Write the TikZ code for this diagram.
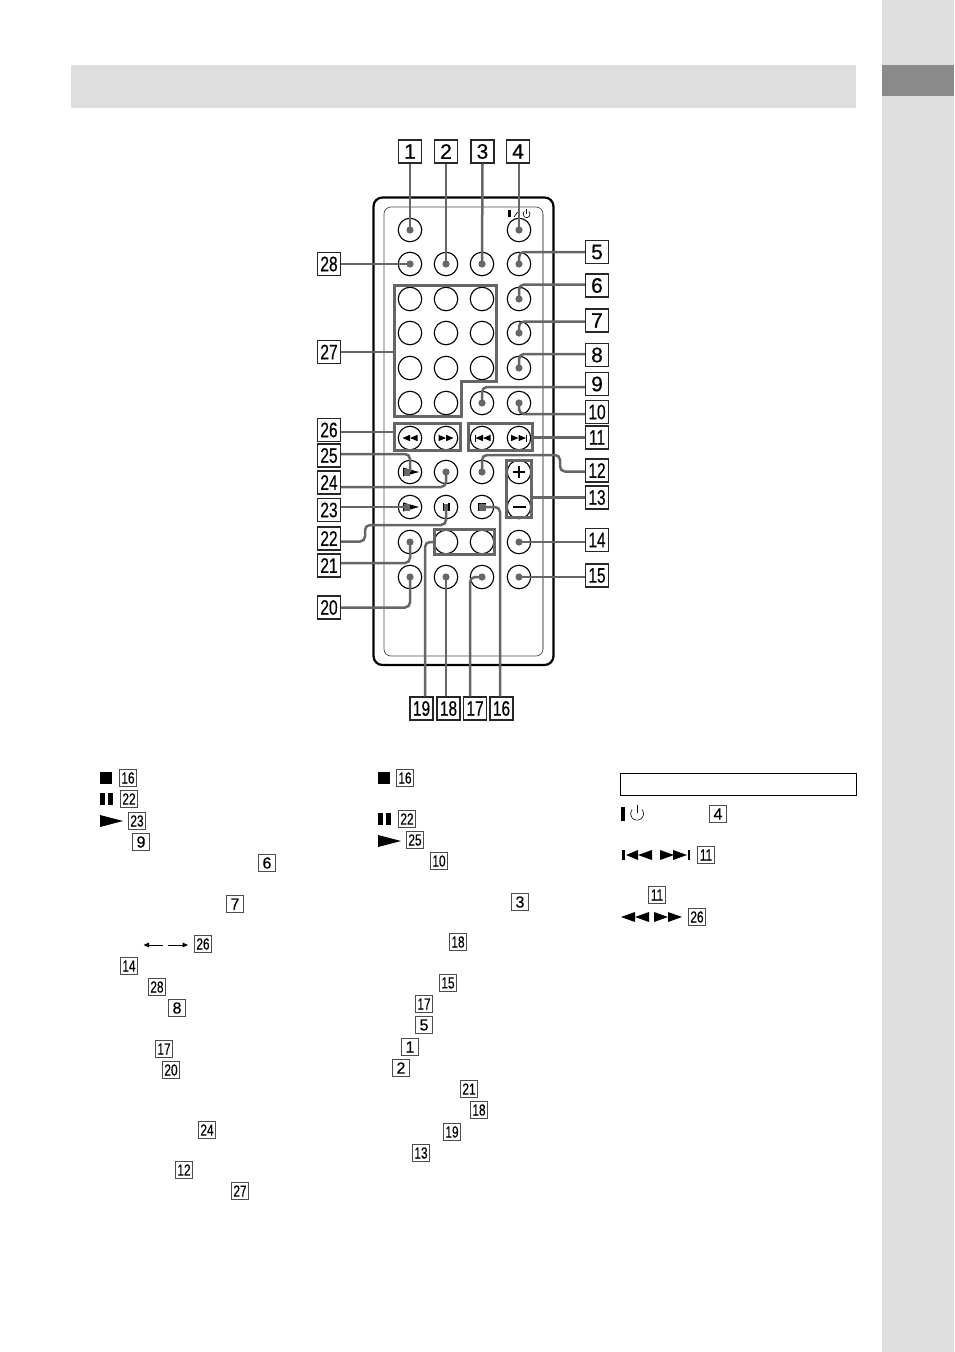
\documentclass[tikz,border=0pt]{standalone}
\usepackage{fontspec}
\setmainfont{Liberation Sans}
\newfontfamily\labfont[FakeBold=0.5]{Liberation Sans}
\usetikzlibrary{calc}
\definecolor{bandgray}{HTML}{DEDEDE}
\definecolor{tabgray}{HTML}{8A8A8A}
\definecolor{conngray}{HTML}{666666}
\newcommand{\nn}[1]{\scalebox{.74}[1]{#1}}
% triangle pointing right/left: base x, y, signed length, half height
\newcommand{\tri}[4]{\fill (#1,#2-#4) -- (#1+#3,#2) -- (#1,#2+#4) -- cycle;}
\newcommand{\blab}[4]{\node[biglab] (#1) at (#2,#3) {#4};}
\newcommand{\sml}[4]{\node[smllab] (#1) at (#2,#3) {#4};}
\newcommand{\btn}[3]{\node[btnnode] (#1) at (#2,#3) {};}
\newcommand{\dotat}[1]{\fill[conngray] (#1.center) circle (3.6);}
\tikzset{
  x=1pt,y=-1pt,
  biglab/.style={draw=black!85,line width=1.1pt,fill=white,minimum width=23pt,minimum height=23pt,inner sep=0pt,font=\labfont\fontsize{21}{21}\selectfont},
  smllab/.style={draw=black!70,line width=.9pt,fill=white,minimum width=17.5pt,minimum height=17.5pt,inner sep=0pt,font=\labfont\fontsize{16}{16}\selectfont},
  btnnode/.style={circle,draw=black,line width=1.1pt,fill=white,minimum size=23.5pt,inner sep=0pt},
  conn/.style={draw=conngray,line width=2.5pt,rounded corners=5pt},
  grp/.style={draw=conngray,line width=3pt,miter limit=4},
}
\begin{document}
\begin{tikzpicture}
\useasboundingbox (0,0) rectangle (954,1352);
% page bands
\fill[bandgray] (71,65) rectangle (856,108);
\fill[bandgray] (882,0) rectangle (954,1352);
\fill[tabgray] (882,65) rectangle (954,96);
% remote body
\draw[line width=2.2pt,rounded corners=9pt] (373.5,197.5) rectangle (553.5,665);
\draw[line width=.7pt,draw=black!70,rounded corners=7pt] (384,207) rectangle (543,656);
\draw[line width=1.8pt,draw=black!35] (543,214) -- (543,649);
% power mark
\fill (508,210) rectangle (510.5,217);
\draw[line width=.7pt] (514,217) -- (517.5,212);
\draw[line width=.6pt] (528.8,211.5) arc[start angle=-50,end angle=230,radius=3.5];
\draw[line width=.6pt] (526.5,209) -- (526.5,213.5);
% buttons
\btn{b1}{410}{230}\btn{b4}{519}{230}
\btn{b28}{410}{264}\btn{b2}{446}{264}\btn{b3}{482}{264}\btn{b5}{519}{264}
\btn{n1}{410}{299}\btn{n2}{446}{299}\btn{n3}{482}{299}\btn{b6}{519}{299}
\btn{n4}{410}{333}\btn{n5}{446}{333}\btn{n6}{482}{333}\btn{b7}{519}{333}
\btn{n7}{410}{368}\btn{n8}{446}{368}\btn{n9}{482}{368}\btn{b8}{519}{368}
\btn{n10}{410}{403}\btn{n11}{446}{403}\btn{b9}{482}{403}\btn{b10}{519}{403}
\btn{brew}{410}{438}\btn{bff}{446}{438}\btn{bprev}{482}{438}\btn{bnext}{519}{438}
\btn{b25}{410}{472}\btn{b24}{446}{472}\btn{b12}{482}{472}\btn{bplus}{519}{472}
\btn{b23}{410}{507}\btn{b22}{446}{507}\btn{b16}{482}{507}\btn{bminus}{519}{507}
\btn{b21}{410}{542}\btn{n12}{446}{542}\btn{n13}{482}{542}\btn{b14}{519}{542}
\btn{b20}{410}{577}\btn{b18}{446}{577}\btn{b17}{482}{577}\btn{b15}{519}{577}
% button symbols
\tri{410}{438}{-7.5}{3.2}\tri{417.5}{438}{-7.5}{3.2}
\tri{438.5}{438}{7.5}{3.2}\tri{446}{438}{7.5}{3.2}
\fill (474.5,434.5) rectangle (475.7,441.5);
\tri{483}{438}{-7.5}{3.2}\tri{490.5}{438}{-7.5}{3.2}
\tri{511}{438}{7.5}{3.2}\tri{518.5}{438}{7.5}{3.2}
\fill (526,434.5) rectangle (527.2,441.5);
\fill (513,470.8) rectangle (525,473.2);
\fill (517.8,466) rectangle (520.2,478);
\fill (512.5,505.8) rectangle (525.5,508.2);
\tri{403}{472}{16}{4.5}
\tri{403}{507}{16}{4.5}
\fill (478,503) rectangle (486,511);
% groups
\draw[grp] (394.8,285.5) -- (496.6,285.5) -- (496.6,381) -- (461,381) -- (461,416.8) -- (394.8,416.8) -- cycle;
\node[grp,minimum width=66pt,minimum height=27pt,inner sep=0pt] (g26) at (427.5,436.7) {};
\node[grp,minimum width=64pt,minimum height=27pt,inner sep=0pt] (g11) at (500.5,436.7) {};
\node[grp,minimum width=25pt,minimum height=57pt,inner sep=0pt] (g13) at (519,489) {};
\node[grp,minimum width=60pt,minimum height=25pt,inner sep=0pt] (g19) at (464.5,542) {};
\coordinate (g27) at (394.8,352);
\coordinate (g26l) at (394.8,432);
% large labels
\blab{l1}{410}{151.5}{1}\blab{l2}{446}{151.5}{2}\blab{l3}{482.5}{151.5}{3}\blab{l4}{518}{151.5}{4}
\blab{l5}{597}{252}{5}\blab{l6}{597}{285.5}{6}\blab{l7}{597}{320.5}{7}\blab{l8}{597}{355}{8}
\blab{l9}{597}{384}{9}\blab{l10}{597}{412}{\nn{10}}\blab{l11}{597}{437.5}{\nn{11}}
\blab{l12}{597}{470.5}{\nn{12}}\blab{l13}{597}{497.5}{\nn{13}}\blab{l14}{597}{540}{\nn{14}}\blab{l15}{597}{575.5}{\nn{15}}
\blab{l28}{329}{264}{\nn{28}}\blab{l27}{329}{352}{\nn{27}}\blab{l26}{329}{430}{\nn{26}}
\blab{l25}{329}{455.5}{\nn{25}}\blab{l24}{329}{482.5}{\nn{24}}\blab{l23}{329}{510}{\nn{23}}
\blab{l22}{329}{538.5}{\nn{22}}\blab{l21}{329}{565.5}{\nn{21}}\blab{l20}{329}{607.5}{\nn{20}}
\blab{l19}{421.5}{708.5}{\nn{19}}\blab{l18}{448.5}{708.5}{\nn{18}}\blab{l17}{475}{708.5}{\nn{17}}\blab{l16}{501.5}{708.5}{\nn{16}}
% connectors
\path[conn] (l1.south) -- (b1.center);
\path[conn] (l2.south) -- (b2.center);
\path[conn] (l3.south) -- (b3.center);
\path[conn] (b4.center |- l4.south) -- (b4.center);
\path[conn] (l5.west) -| (b5.center);
\path[conn] (l6.west) ++(0,-1) -| (b6.center);
\path[conn] (l7.west) ++(0,1) -| (b7.center);
\path[conn] (l8.west) ++(0,-1) -| (b8.center);
\path[conn] (l9.west) ++(0,3) -| (b9.center);
\path[conn] (l10.west) ++(0,2) -| (b10.center);
\path[conn] (l11.west) -- (g11.east |- l11.west);
\path[conn] (l12.west) ++(0,1) -- (560,471.5) -- (560,455) -- (482,455) -- (b12.center);
\path[conn] (l13.west) -- (g13.east |- l13.west);
\path[conn] (l14.west) ++(0,2) -- (b14.center);
\path[conn] (l15.west) ++(0,1.5) -- (b15.center);
\path[conn] (l16.north) ++(-1.5,0) |- (b16.center);
\path[conn] (l17.north) ++(-5,0) |- (b17.center);
\path[conn] (b18.center |- l18.north) -- (b18.center);
\path[conn] (l19.north) ++(3.5,0) |- (g19.west);
\path[conn] (l20.east) -| (b20.center);
\path[conn] (l21.east) ++(0,-2.5) -| (b21.center);
\path[conn] (l22.east) ++(0,3) -- (365,541.5) -- (365,525) -- (446,525) -- (b22.center);
\path[conn] (l23.east) ++(0,-3) -- (b23.center);
\path[conn] (l24.east) ++(0,4.5) -| (b24.center);
\path[conn] (l25.east) ++(0,-1.5) -| (b25.center);
\path[conn] (l26.east) ++(0,2) -- (g26l);
\path[conn] (l27.east) -- (g27);
\path[conn] (l28.east) -- (b28.center);
% connector dots
\dotat{b1}\dotat{b2}\dotat{b3}\dotat{b4}\dotat{b5}\dotat{b6}\dotat{b7}\dotat{b8}\dotat{b9}\dotat{b10}
\dotat{b12}\dotat{b14}\dotat{b15}\dotat{b17}\dotat{b18}\dotat{b20}\dotat{b21}\dotat{b24}\dotat{b28}
\fill[conngray] (478.5,503.5) rectangle (485.5,510.5);
\fill[conngray] (442.5,503.5) rectangle (449.5,510.5);
\fill (442.5,503) rectangle (443.8,511);
\fill (448.2,503) rectangle (449.5,511);
\fill[conngray] (404,468.5) rectangle (410,475.5);
\fill[conngray] (404,503.5) rectangle (410,510.5);
% lower column 1
\fill (100,772) rectangle (112,784);
\fill (100,793) rectangle (104.5,804.5);
\fill (108,793) rectangle (112.5,804.5);
\tri{100}{821}{23}{6}
\sml{a16}{128}{778}{\nn{16}}\sml{a22}{129}{799}{\nn{22}}\sml{a23}{137}{821}{\nn{23}}
\sml{a9}{141}{842}{9}\sml{a6}{267}{863}{6}\sml{a7}{235}{904}{7}
\draw[line width=.8pt] (146,945) -- (163,945);
\fill (143.5,945) -- (149,942.5) -- (149,947.5) -- cycle;
\draw[line width=.8pt] (168,945) -- (185,945);
\fill (188,945) -- (182.5,942.5) -- (182.5,947.5) -- cycle;
\sml{a26}{203}{944}{\nn{26}}\sml{a14}{129}{966}{\nn{14}}\sml{a28}{157}{987}{\nn{28}}
\sml{a8}{177}{1008}{8}\sml{a17}{164}{1049}{\nn{17}}\sml{a20}{171}{1070}{\nn{20}}
\sml{a24}{207}{1130}{\nn{24}}\sml{a12}{184}{1170}{\nn{12}}\sml{a27}{240}{1191}{\nn{27}}
% lower column 2
\fill (378,772) rectangle (390,784);
\fill (378,813) rectangle (382.5,824.5);
\fill (386,813) rectangle (390.5,824.5);
\tri{378}{841}{23}{6}
\sml{c16}{405}{778}{\nn{16}}\sml{c22}{407}{819}{\nn{22}}\sml{c25}{415}{840}{\nn{25}}
\sml{c10}{439}{861}{\nn{10}}\sml{c3}{520}{902}{3}\sml{c18}{458}{942}{\nn{18}}
\sml{c15}{448}{983}{\nn{15}}\sml{c17}{424}{1004}{\nn{17}}\sml{c5}{424}{1025}{5}
\sml{c1}{410}{1047}{1}\sml{c2}{401}{1068}{2}\sml{c21}{469}{1089}{\nn{21}}
\sml{c18b}{479}{1110}{\nn{18}}\sml{c19}{452}{1132}{\nn{19}}\sml{c13}{421}{1153}{\nn{13}}
% lower column 3
\node[draw=black,line width=.9pt,minimum width=236.5pt,minimum height=22.5pt,inner sep=0pt] (notebox) at (738.5,784.5) {};
\fill (621,806.5) rectangle (624.5,820.5);
\draw[line width=.6pt] (642,809.5) arc[start angle=-40,end angle=220,radius=6.5] ;
\draw[line width=.6pt] (637,804.5) -- (637,813);
\sml{d4}{718}{814}{4}
\fill (622,850) rectangle (624.5,860);
\tri{638}{855}{-12}{5}\tri{652}{855}{-14}{5}
\tri{660}{855}{14}{5}\tri{673}{855}{14}{5}
\fill (687.5,850) rectangle (690,860);
\sml{d11}{706}{855}{\nn{11}}\sml{d11b}{657}{895}{\nn{11}}
\tri{635}{917}{-14}{5}\tri{649}{917}{-14}{5}
\tri{654}{917}{14}{5}\tri{668}{917}{14}{5}
\sml{d26}{697}{917}{\nn{26}}
\end{tikzpicture}
\end{document}
